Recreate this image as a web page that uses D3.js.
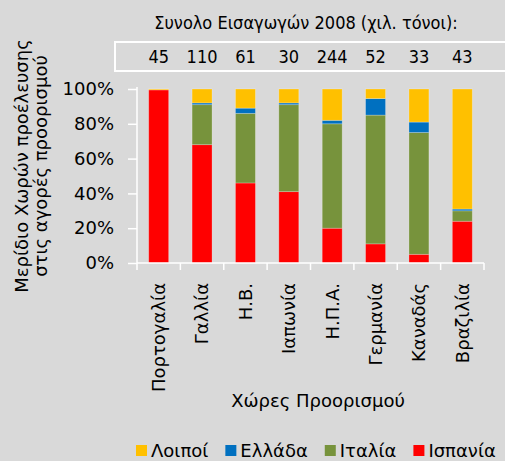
<!DOCTYPE html>
<html>
<head>
<meta charset="utf-8">
<script src="https://cdn.jsdelivr.net/npm/d3@7"></script>
<style>
  body { margin: 0; background: #d9d9d9; }
  svg { display: block; font-family: "DejaVu Sans", sans-serif; }
  .narrow { font-family: "DejaVu Sans Condensed", "DejaVu Sans", sans-serif; }
</style>
</head>
<body>
<svg id="chart" width="505" height="461"></svg>
<script>
// ==========================
// DATA
// ==========================
const countries = ["Πορτογαλία", "Γαλλία", "Η.Β.", "Ιαπωνία", "Η.Π.Α.", "Γερμανία", "Καναδάς", "Βραζιλία"];
const totals = [45, 110, 61, 30, 244, 52, 33, 43];
const spain  = [99.5, 68, 46, 41, 20, 11, 5, 24];
const italy  = [0, 23, 40, 50, 60, 74, 70, 6];
const greece = [0, 1, 3, 1, 2, 9.5, 6, 1];
const others = [0.5, 8, 11, 8, 18, 5.5, 19, 69];
const seriesNames = ["Ισπανία", "Ιταλία", "Ελλάδα", "Λοιποί"];
const legendOrder = ["Λοιποί", "Ελλάδα", "Ιταλία", "Ισπανία"];
const yTicks = [0, 20, 40, 60, 80, 100];

const colors = {
    "Ισπανία": "#ff0000",
    "Ιταλία": "#77933c",
    "Ελλάδα": "#0070c0",
    "Λοιποί": "#ffc000"
};

// ==========================
// SETUP
// ==========================
const svg = d3.select("#chart");
const fontSize = 18;

const x = d3.scaleBand()
    .domain(countries)
    .range([137, 484])
    .paddingInner(0.54)
    .paddingOuter(0.27);

const y = d3.scaleLinear()
    .domain([0, 100])
    .range([263, 89]);

const table = countries.map((c, i) => ({
    country: c,
    "Ισπανία": spain[i],
    "Ιταλία": italy[i],
    "Ελλάδα": greece[i],
    "Λοιποί": others[i]
}));
const stacked = d3.stack().keys(seriesNames)(table);

// Title and totals box
svg.append("text")
    .attr("class", "narrow")
    .attr("x", 306)
    .attr("y", 29)
    .attr("text-anchor", "middle")
    .attr("font-size", fontSize)
    .text("Συνολο Εισαγωγών 2008  (χιλ. τόνοι):");

svg.append("rect")
    .attr("x", 115)
    .attr("y", 42)
    .attr("width", 420)
    .attr("height", 29)
    .attr("fill", "none")
    .attr("stroke", "#fff")
    .attr("stroke-width", 2);

svg.append("g")
    .attr("class", "narrow")
    .selectAll("text")
    .data(totals)
    .join("text")
    .attr("x", (d, i) => x(countries[i]) + x.bandwidth() / 2)
    .attr("y", 63)
    .attr("text-anchor", "middle")
    .attr("font-size", fontSize)
    .text(d => d);

// Bars
svg.append("g")
    .selectAll("g")
    .data(stacked)
    .join("g")
    .attr("fill", d => colors[d.key])
    .selectAll("rect")
    .data(d => d)
    .join("rect")
    .attr("x", d => x(d.data.country))
    .attr("y", d => y(d[1]))
    .attr("width", x.bandwidth())
    .attr("height", d => Math.max(0, y(d[0]) - y(d[1])))
    .attr("stroke", "rgba(255,255,255,0.3)")
    .attr("stroke-width", 0.8);

// Y axis
const yAxis = svg.append("g")
    .attr("transform", "translate(137,0)")
    .call(d3.axisLeft(y).tickValues(yTicks).tickFormat(d => d + "%").tickSize(9).tickPadding(14));
yAxis.select(".domain").attr("stroke", "#fff").attr("stroke-width", 1.5).attr("d", "M0,87V263");
yAxis.selectAll(".tick line").attr("stroke", "#fff").attr("stroke-width", 1.5);
yAxis.selectAll(".tick text")
    .attr("font-family", null)
    .attr("font-size", fontSize)
    .attr("fill", "#000");
yAxis.attr("font-family", null);

// X axis (ticks between categories)
const xAxis = svg.append("g")
    .attr("transform", "translate(0,263)");
xAxis.append("line")
    .attr("x1", 137).attr("x2", 484)
    .attr("stroke", "#fff").attr("stroke-width", 1.5);
const edges = countries.map(c => x(c) - x.step() * x.paddingInner() / 2 - (c === countries[0] ? x.step() * (x.paddingOuter() - x.paddingInner() / 2) : 0));
edges.push(484);
xAxis.selectAll(".xtick")
    .data(edges)
    .join("line")
    .attr("class", "xtick")
    .attr("x1", d => d).attr("x2", d => d)
    .attr("y1", 0).attr("y2", 7)
    .attr("stroke", "#fff").attr("stroke-width", 1.5);

svg.append("g")
    .selectAll("text")
    .data(countries)
    .join("text")
    .attr("transform", d => `translate(${x(d) + x.bandwidth() / 2},283) rotate(-90)`)
    .attr("dy", "0.35em")
    .attr("text-anchor", "end")
    .attr("font-size", fontSize)
    .text(d => d);

// Axis titles
svg.append("text")
    .attr("x", 318)
    .attr("y", 407)
    .attr("text-anchor", "middle")
    .attr("font-size", fontSize)
    .text("Χώρες Προορισμού");

const yTitle = svg.append("text")
    .attr("transform", "translate(0,166) rotate(-90)")
    .attr("text-anchor", "middle")
    .attr("font-size", fontSize);
yTitle.append("tspan").attr("x", 0).attr("y", 28).text("Μερίδιο Χωρών προέλευσης");
yTitle.append("tspan").attr("x", 0).attr("y", 47).text("στις αγορές προορισμού");

// Legend
const legend = svg.append("g");
let lx = 136;
legendOrder.forEach(name => {
    const item = legend.append("g").attr("transform", `translate(${lx},0)`);
    item.append("rect")
        .attr("x", 0).attr("y", 445)
        .attr("width", 11).attr("height", 11)
        .attr("fill", colors[name]);
    const t = item.append("text")
        .attr("x", 15)
        .attr("y", 457)
        .attr("font-size", fontSize)
        .text(name);
    lx += 15 + t.node().getComputedTextLength() + 17;
});
</script>
</body>
</html>
